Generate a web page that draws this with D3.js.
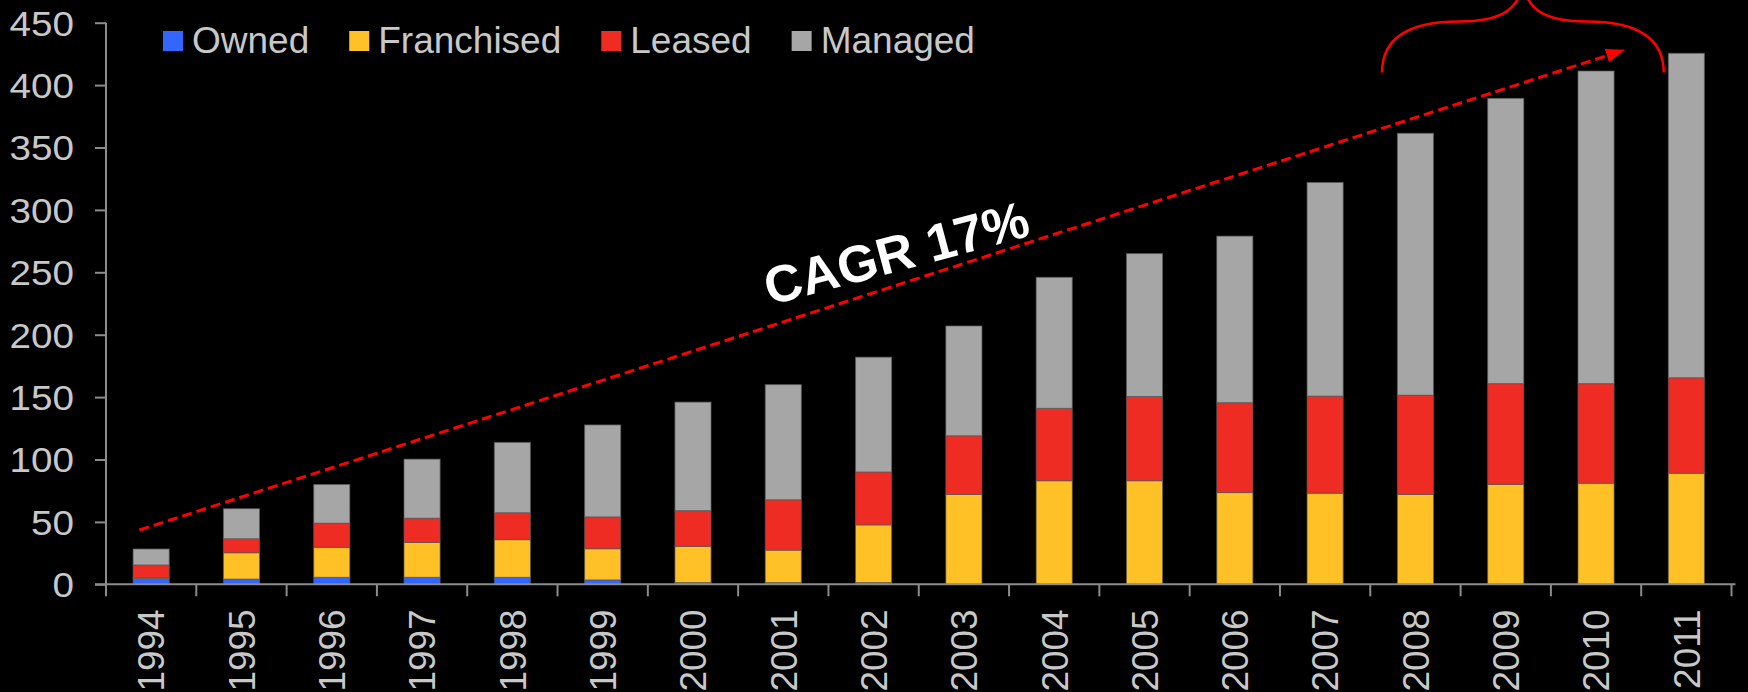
<!DOCTYPE html>
<html>
<head>
<meta charset="utf-8">
<script src="https://cdn.jsdelivr.net/npm/d3@7"></script>
<style>
  html, body { margin: 0; padding: 0; background: #000; overflow: hidden; }
  svg { display: block; font-family: "Liberation Sans", Arial, sans-serif; }
</style>
</head>
<body>
<div id="chart"></div>
<script>
var width = 1748;
var height = 692;

// data (rooms, thousands)
var years = ["1994", "1995", "1996", "1997", "1998", "1999", "2000", "2001", "2002",
             "2003", "2004", "2005", "2006", "2007", "2008", "2009", "2010", "2011"];
var owned      = [4.8, 4.2, 5.6, 5.6, 5.6, 3.5, 1.4, 1.4, 1.4, 0, 0, 0, 0, 0, 0, 0, 0, 0];
var franchised = [0.5, 21.1, 24, 28, 30.2, 25, 29, 26, 46.2, 72, 83, 83, 73.5, 73, 72, 80, 81, 89];
var leased     = [10.2, 11.2, 19.4, 19.4, 21.5, 25.5, 28.6, 40.3, 42.4, 47, 58, 67.5, 72, 77.8, 79.6, 80.8, 79.8, 76.5];
var managed    = [12.8, 24.1, 31, 47.3, 56.4, 73.7, 87, 92.3, 92, 88, 105, 114.5, 133.5, 171.2, 209.8, 228.6, 250.5, 260];

var seriesNames  = ["Owned", "Franchised", "Leased", "Managed"];
var seriesColors = ["#3366ff", "#ffc125", "#ee2c24", "#a6a6a6"];
var yTicks = [0, 50, 100, 150, 200, 250, 300, 350, 400, 450];

// annotation: trend arrow (year, position inside band, value) and brace
var trendFrom = ["1994", 0.37, 43.5];
var trendTo   = ["2010", 0.81, 428];
var cagrLabel = "CAGR 17%";
var cagrAt    = ["2002", 0.75, 266];
var braceFrom = ["2008", 0.13];
var braceTo   = ["2011", 0.25];
var braceLow = 410, braceMid = 451, braceTip = 482;

var plotLeft = 106, plotRight = 1731.5, plotTop = 22.7, plotBottom = 584.3;

var svg = d3.select("#chart").append("svg")
    .attr("width", width).attr("height", height);

svg.append("rect").attr("width", width).attr("height", height).attr("fill", "#000");

var x = d3.scaleBand().domain(years).range([plotLeft, plotRight]).padding(0);
var y = d3.scaleLinear().domain([0, 450]).range([plotBottom, plotTop]);
var barW = x.bandwidth() * 0.4;

var rows = years.map(function(yr, i) {
    return { year: yr, Owned: owned[i], Franchised: franchised[i], Leased: leased[i], Managed: managed[i] };
});
var stacked = d3.stack().keys(seriesNames)(rows);

// bars
stacked.forEach(function(layer, li) {
    svg.append("g").selectAll("rect").data(layer).enter().append("rect")
        .attr("x", function(d) { return x(d.data.year) + (x.bandwidth() - barW) / 2; })
        .attr("y", function(d) { return y(d[1]); })
        .attr("width", barW)
        .attr("height", function(d) { return Math.max(0, y(d[0]) - y(d[1])); })
        .attr("fill", seriesColors[li])
        .attr("stroke", "rgba(90,90,90,0.7)")
        .attr("stroke-width", 1);
});

// y axis
var axisColor = "#8c8c8c";
var labelColor = "#c8c8c8";
var yAxis = svg.append("g").attr("transform", "translate(" + plotLeft + ",0)")
    .call(d3.axisLeft(y).tickValues(yTicks).tickSize(11).tickFormat(d3.format("d")));
yAxis.select(".domain").attr("stroke", axisColor).attr("stroke-width", 2)
    .attr("d", "M0," + y(450) + "V" + y(0));
yAxis.selectAll(".tick line").attr("stroke", axisColor).attr("stroke-width", 2);
yAxis.selectAll(".tick text")
    .attr("fill", labelColor)
    .attr("font-size", 34.5)
    .attr("font-family", "Liberation Sans, Arial, sans-serif")
    .attr("x", 0).attr("dy", "0.36em")
    .attr("transform", "translate(-32,0) scale(1.12,1)");

// x axis: line, ticks at band edges, rotated labels
var xg = svg.append("g");
xg.append("line")
    .attr("x1", plotLeft - 11).attr("x2", plotRight + 4)
    .attr("y1", plotBottom).attr("y2", plotBottom)
    .attr("stroke", axisColor).attr("stroke-width", 2);
var edges = years.map(function(d) { return x(d); }).concat([x(years[years.length - 1]) + x.bandwidth()]);
xg.selectAll(".xt").data(edges).enter().append("line")
    .attr("class", "xt")
    .attr("x1", function(d) { return d; }).attr("x2", function(d) { return d; })
    .attr("y1", plotBottom).attr("y2", plotBottom + 12)
    .attr("stroke", axisColor).attr("stroke-width", 2);
xg.selectAll(".xl").data(years).enter().append("text")
    .attr("class", "xl")
    .attr("transform", function(d) {
        return "translate(" + (x(d) + x.bandwidth() / 2) + "," + (plotBottom + 25) + ") rotate(-90)";
    })
    .attr("text-anchor", "end")
    .attr("dy", "0.36em")
    .attr("fill", labelColor)
    .attr("font-size", 37)
    .text(function(d) { return d; });

// legend
var lg = svg.append("g");
var lx = 163;
seriesNames.forEach(function(name, i) {
    lg.append("rect").attr("x", lx).attr("y", 31).attr("width", 20).attr("height", 20)
        .attr("fill", seriesColors[i]);
    var t = lg.append("text").attr("x", lx + 29).attr("y", 53)
        .attr("fill", labelColor).attr("font-size", 37).text(name);
    lx += 29 + t.node().getComputedTextLength() + 40;
});

// trend arrow
var defs = svg.append("defs");
defs.append("marker").attr("id", "arrowHead")
    .attr("viewBox", "0 -8 20 16").attr("refX", 18).attr("refY", 0)
    .attr("markerWidth", 20).attr("markerHeight", 16)
    .attr("markerUnits", "userSpaceOnUse").attr("orient", "auto")
    .append("path").attr("d", "M0,-7L19,0L0,7Z").attr("fill", "#ff0000");

var tx0 = x(trendFrom[0]) + x.step() * trendFrom[1], ty0 = y(trendFrom[2]);
var tx1 = x(trendTo[0]) + x.step() * trendTo[1], ty1 = y(trendTo[2]);
svg.append("line")
    .attr("x1", tx0).attr("y1", ty0).attr("x2", tx1).attr("y2", ty1)
    .attr("stroke", "#ff0000").attr("stroke-width", 3)
    .attr("stroke-dasharray", "10,5")
    .attr("marker-end", "url(#arrowHead)");

// CAGR label
var cx = x(cagrAt[0]) + x.step() * cagrAt[1], cy = y(cagrAt[2]);
svg.append("text")
    .attr("transform", "translate(" + cx + "," + cy + ") rotate(-15)")
    .attr("text-anchor", "middle").attr("dy", "0.36em")
    .attr("fill", "#ffffff").attr("font-weight", "bold").attr("font-size", 52)
    .text(cagrLabel);

// brace over the last years
var bx0 = x(braceFrom[0]) + x.step() * braceFrom[1];
var bx1 = x(braceTo[0]) + x.step() * braceTo[1];
var bm = (bx0 + bx1) / 2;
var yl = y(braceLow), ym = y(braceMid), yt = y(braceTip);
var q = (bx1 - bx0) / 4;
var brace = d3.path();
brace.moveTo(bx0, yl);
brace.bezierCurveTo(bx0, yl - (yl - ym) * 0.7, bx0 + q * 0.4, ym, bx0 + q * 1.1, ym);
brace.bezierCurveTo(bm - q * 0.4, ym, bm - 4, ym - 8, bm, yt);
brace.bezierCurveTo(bm + 4, ym - 8, bm + q * 0.4, ym, bx1 - q * 1.1, ym);
brace.bezierCurveTo(bx1 - q * 0.4, ym, bx1, yl - (yl - ym) * 0.7, bx1, yl);
svg.append("path").attr("d", brace.toString())
    .attr("fill", "none").attr("stroke", "#ff0000").attr("stroke-width", 2.5);
</script>
</body>
</html>
